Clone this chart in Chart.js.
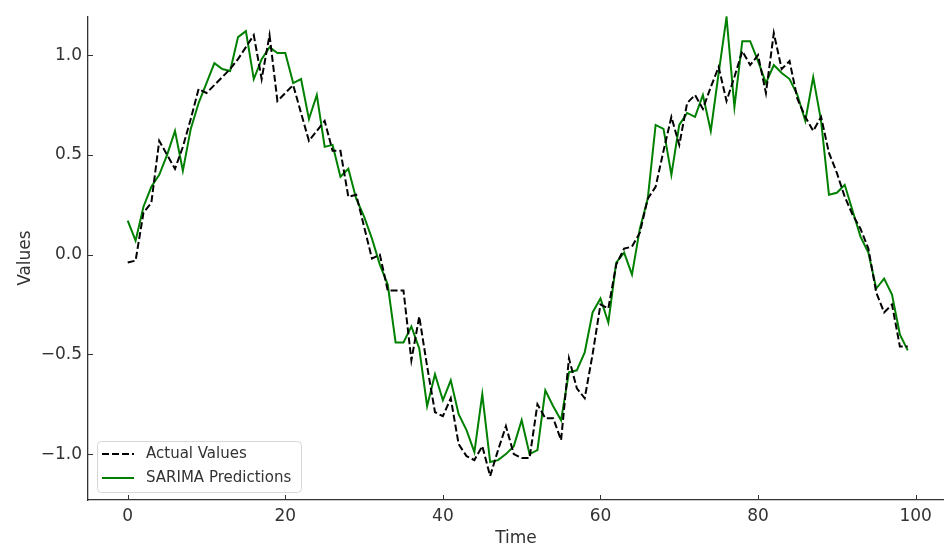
<!DOCTYPE html>
<html>
<head>
<meta charset="utf-8">
<script src="https://cdn.jsdelivr.net/npm/chart.js@4.4.1/dist/chart.umd.min.js"></script>
<style>
  body { margin: 0; background: #fff; }
</style>
</head>
<body>
<canvas id="line-chart" width="944" height="546"></canvas>
<script>
// time index 0..99
const time = Array.from({ length: 100 }, (_, i) => i);

const actualValues = [
  -0.04, -0.03, 0.21, 0.26, 0.57, 0.50, 0.43, 0.54, 0.68, 0.83,
  0.81, 0.85, 0.89, 0.93, 0.98, 1.04, 1.10, 0.88, 1.10, 0.77,
  0.81, 0.85, 0.71, 0.57, 0.62, 0.67, 0.52, 0.52, 0.29, 0.30,
  0.14, -0.02, 0.00, -0.18, -0.18, -0.18, -0.53, -0.31, -0.56, -0.79,
  -0.81, -0.72, -0.95, -1.01, -1.03, -0.96, -1.11, -0.98, -0.86, -1.00,
  -1.02, -1.02, -0.75, -0.82, -0.82, -0.93, -0.52, -0.67, -0.72, -0.50,
  -0.25, -0.27, -0.05, 0.03, 0.04, 0.11, 0.28, 0.34, 0.52, 0.69,
  0.55, 0.76, 0.80, 0.73, 0.84, 0.94, 0.77, 0.89, 1.02, 0.95,
  1.00, 0.81, 1.11, 0.93, 0.97, 0.78, 0.69, 0.62, 0.69, 0.51,
  0.41, 0.29, 0.20, 0.13, 0.03, -0.19, -0.29, -0.25, -0.46, -0.46
];

const sarimaPredictions = [
  0.17, 0.07, 0.24, 0.34, 0.40, 0.50, 0.62, 0.42, 0.63, 0.76,
  0.86, 0.96, 0.93, 0.92, 1.09, 1.12, 0.88, 0.98, 1.04, 1.01,
  1.01, 0.86, 0.88, 0.68, 0.80, 0.54, 0.55, 0.39, 0.43, 0.28,
  0.19, 0.08, -0.05, -0.15, -0.44, -0.44, -0.36, -0.47, -0.76, -0.60,
  -0.73, -0.63, -0.80, -0.88, -0.99, -0.70, -1.04, -1.03, -1.00, -0.96,
  -0.83, -1.00, -0.98, -0.68, -0.76, -0.83, -0.59, -0.58, -0.49, -0.29,
  -0.22, -0.34, -0.04, 0.01, -0.10, 0.13, 0.28, 0.65, 0.63, 0.40,
  0.65, 0.71, 0.69, 0.80, 0.62, 0.91, 1.19, 0.74, 1.07, 1.07,
  0.97, 0.86, 0.95, 0.91, 0.88, 0.80, 0.67, 0.89, 0.67, 0.30,
  0.31, 0.35, 0.22, 0.09, 0.01, -0.17, -0.12, -0.20, -0.40, -0.48
];

const xTicks = [0, 20, 40, 60, 80, 100];
const yTicks = [-1.0, -0.5, 0.0, 0.5, 1.0];

const FONT = "'DejaVu Sans', sans-serif";
const TEXT = '#333333';

function points(ys) {
  return ys.map((y, i) => ({ x: time[i], y: y }));
}

// inward tick marks, like matplotlib direction='in'
const inTicks = {
  id: 'inTicks',
  afterDraw(chart) {
    const ctx = chart.ctx;
    const area = chart.chartArea;
    const xs = chart.scales.x, ys = chart.scales.y;
    ctx.save();
    ctx.strokeStyle = TEXT;
    ctx.lineWidth = 1;
    ctx.beginPath();
    xs.ticks.forEach(t => {
      const px = Math.round(xs.getPixelForValue(t.value)) + 0.5;
      ctx.moveTo(px, area.bottom);
      ctx.lineTo(px, area.bottom - 5);
    });
    ys.ticks.forEach(t => {
      const py = Math.round(ys.getPixelForValue(t.value)) + 0.5;
      ctx.moveTo(area.left, py);
      ctx.lineTo(area.left + 5, py);
    });
    ctx.stroke();
    ctx.restore();
  }
};

// legend box in the lower left corner of the plot
const cornerLegend = {
  id: 'cornerLegend',
  afterDraw(chart) {
    const ctx = chart.ctx;
    const area = chart.chartArea;
    const x0 = area.left + 9, w = 204, h = 51;
    const y0 = area.bottom - 8 - h;
    ctx.save();
    ctx.fillStyle = 'rgba(255,255,255,0.8)';
    ctx.strokeStyle = '#d6d6d6';
    ctx.lineWidth = 1;
    ctx.beginPath();
    ctx.roundRect(x0 + 0.5, y0 + 0.5, w, h, 4);
    ctx.fill();
    ctx.stroke();
    ctx.font = '15px ' + FONT;
    ctx.textBaseline = 'middle';
    chart.data.datasets.forEach((ds, i) => {
      const yy = y0 + 13 + i * 24;
      ctx.strokeStyle = ds.borderColor;
      ctx.lineWidth = ds.borderWidth;
      ctx.setLineDash(ds.borderDash || []);
      ctx.beginPath();
      ctx.moveTo(x0 + 5, yy);
      ctx.lineTo(x0 + 37, yy);
      ctx.stroke();
      ctx.setLineDash([]);
      ctx.fillStyle = TEXT;
      ctx.fillText(ds.label, x0 + 49, yy);
    });
    ctx.restore();
  }
};

const ctx = document.getElementById('line-chart');
new Chart(ctx, {
  type: 'line',
  data: {
    datasets: [
      {
        label: 'Actual Values',
        data: points(actualValues),
        borderColor: '#000000',
        borderWidth: 2,
        borderDash: [7, 3],
        pointRadius: 0,
        tension: 0,
        fill: false
      },
      {
        label: 'SARIMA Predictions',
        data: points(sarimaPredictions),
        borderColor: '#008000',
        borderWidth: 2,
        pointRadius: 0,
        tension: 0,
        fill: false
      }
    ]
  },
  options: {
    responsive: false,
    animation: false,
    devicePixelRatio: 1,
    layout: { padding: { top: 12, right: 0, left: 0, bottom: 0 } },
    plugins: {
      legend: { display: false },
      tooltip: { enabled: false }
    },
    scales: {
      x: {
        type: 'linear',
        min: -5.04,
        max: 103.6,
        afterBuildTicks: s => { s.ticks = xTicks.map(v => ({ value: v })); },
        afterFit: s => { s.height = 46; },
        grid: { display: false, drawTicks: false },
        border: { display: true, color: TEXT, width: 1.3 },
        ticks: {
          padding: 6,
          color: TEXT,
          font: { family: FONT, size: 17 },
          maxRotation: 0,
          callback: v => String(v)
        },
        title: {
          display: true,
          text: 'Time',
          color: TEXT,
          font: { family: FONT, size: 17, lineHeight: 1 },
          padding: { top: 0, bottom: -1 }
        }
      },
      y: {
        type: 'linear',
        min: -1.23,
        max: 1.195,
        afterBuildTicks: s => { s.ticks = yTicks.map(v => ({ value: v })); },
        afterFit: s => { s.width = 88; },
        grid: { display: false, drawTicks: false },
        border: { display: true, color: TEXT, width: 1.3 },
        ticks: {
          padding: 6,
          color: TEXT,
          font: { family: FONT, size: 17 },
          callback: v => v.toFixed(1).replace('-', '\u2212')
        },
        title: {
          display: true,
          text: 'Values',
          color: TEXT,
          font: { family: FONT, size: 17, lineHeight: 1 },
          padding: { top: 17, bottom: 0 }
        }
      }
    }
  },
  plugins: [inTicks, cornerLegend]
});
</script>
</body>
</html>
